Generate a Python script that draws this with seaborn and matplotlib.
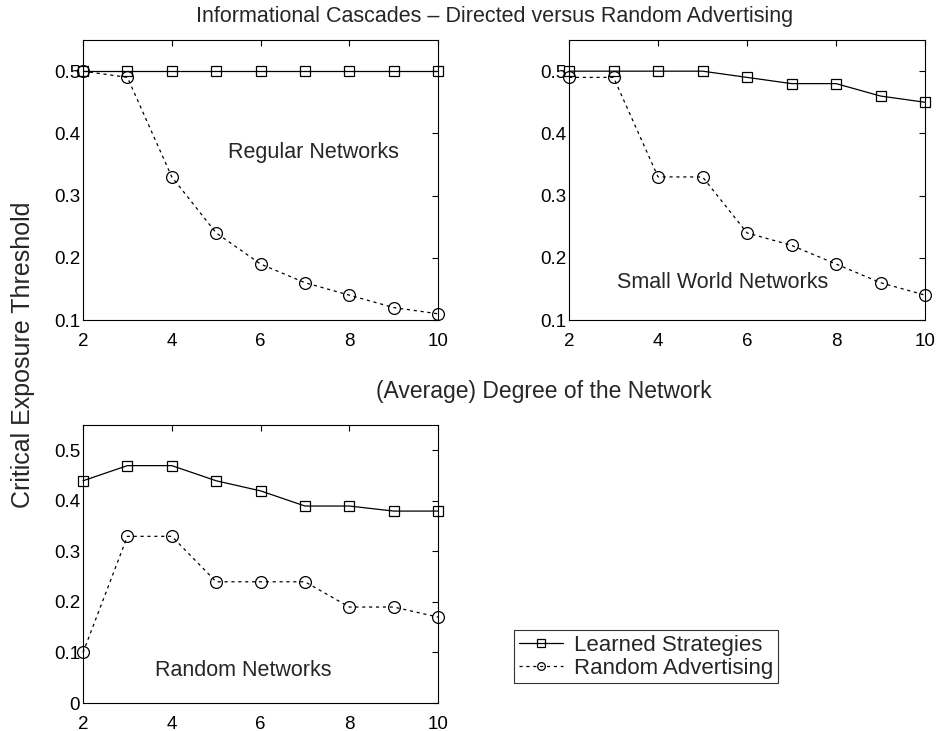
import matplotlib
matplotlib.use("Agg")
import matplotlib.pyplot as plt
import seaborn as sns
import pandas as pd

degree = [2, 3, 4, 5, 6, 7, 8, 9, 10]

regular_learned = [0.50, 0.50, 0.50, 0.50, 0.50, 0.50, 0.50, 0.50, 0.50]
regular_random = [0.50, 0.49, 0.33, 0.24, 0.19, 0.16, 0.14, 0.12, 0.11]

smallworld_learned = [0.50, 0.50, 0.50, 0.50, 0.49, 0.48, 0.48, 0.46, 0.45]
smallworld_random = [0.49, 0.49, 0.33, 0.33, 0.24, 0.22, 0.19, 0.16, 0.14]

randomnet_learned = [0.44, 0.47, 0.47, 0.44, 0.42, 0.39, 0.39, 0.38, 0.38]
randomnet_random = [0.10, 0.33, 0.33, 0.24, 0.24, 0.24, 0.19, 0.19, 0.17]

series_names = ["Learned Strategies", "Random Advertising"]
xticks = [2, 4, 6, 8, 10]

sns.set_style("white")
plt.rcParams["font.family"] = ["Liberation Sans", "DejaVu Sans"]
plt.rcParams["font.size"] = 13

fig = plt.figure(figsize=(9.37, 7.31), dpi=100)

ax_reg = fig.add_axes([0.0886, 0.5622, 0.379, 0.383])
ax_sw = fig.add_axes([0.6073, 0.5622, 0.380, 0.383])
ax_rn = fig.add_axes([0.0886, 0.0383, 0.379, 0.380])


def draw_panel(ax, learned, random_adv, ylim, yticks, ylabels, label, label_xy):
    df = pd.DataFrame({"degree": degree, "learned": learned, "random": random_adv})
    sns.lineplot(data=df, x="degree", y="learned", ax=ax, color="black",
                 marker="s", markersize=7.5, markerfacecolor="none",
                 markeredgecolor="black", markeredgewidth=0.9, linewidth=0.9,
                 label=series_names[0], legend=False, clip_on=False, zorder=3)
    sns.lineplot(data=df, x="degree", y="random", ax=ax, color="black",
                 marker="o", markersize=8.5, markerfacecolor="none",
                 markeredgecolor="black", markeredgewidth=0.9, linewidth=0.9,
                 dashes=(2.5, 3), label=series_names[1], legend=False,
                 clip_on=False, zorder=3)
    ax.set_xlim(2, 10)
    ax.set_ylim(*ylim)
    ax.set_xticks(xticks)
    ax.set_yticks(yticks)
    ax.set_yticklabels(ylabels)
    ax.set_xlabel("")
    ax.set_ylabel("")
    ax.tick_params(direction="in", top=True, right=True, length=4,
                   width=0.8, labelsize=13.5, colors="black")
    ax.tick_params(axis="x", pad=9)
    ax.tick_params(axis="y", pad=2)
    for s in ax.spines.values():
        s.set_visible(True)
        s.set_color("black")
        s.set_linewidth(0.8)
    ax.text(label_xy[0], label_xy[1], label, fontsize=15.5, ha="center",
            va="center", transform=ax.transData)


draw_panel(ax_reg, regular_learned, regular_random, (0.1, 0.55),
           [0.1, 0.2, 0.3, 0.4, 0.5], ["0.1", "0.2", "0.3", "0.4", "0.5"],
           "Regular Networks", (7.18, 0.37))
draw_panel(ax_sw, smallworld_learned, smallworld_random, (0.1, 0.55),
           [0.1, 0.2, 0.3, 0.4, 0.5], ["0.1", "0.2", "0.3", "0.4", "0.5"],
           "Small World Networks", (5.44, 0.16))
draw_panel(ax_rn, randomnet_learned, randomnet_random, (0.0, 0.55),
           [0, 0.1, 0.2, 0.3, 0.4, 0.5], ["0", "0.1", "0.2", "0.3", "0.4", "0.5"],
           "Random Networks", (5.6, 0.065))

handles, labels = ax_rn.get_legend_handles_labels()
leg = fig.legend(handles, labels, loc="center",
                 bbox_to_anchor=(0.541, 0.063, 0.297, 0.077),
                 frameon=True, fancybox=False, edgecolor="black",
                 fontsize=16, handlelength=2.0, borderpad=0.2,
                 labelspacing=0.1, handletextpad=0.5, borderaxespad=0)
leg.get_frame().set_linewidth(0.8)
for h in leg.legend_handles:
    h.set_markersize(5.5)

fig.text(0.528, 0.977, "Informational Cascades \u2013 Directed versus Random Advertising",
         ha="center", va="center", fontsize=15.5)
fig.text(0.580, 0.465, "(Average) Degree of the Network", ha="center",
         va="center", fontsize=16.5)
fig.text(0.0245, 0.515, "Critical Exposure Threshold", ha="center",
         va="center", rotation=90, fontsize=18)

fig.savefig("out.png", dpi=100, facecolor="white")
